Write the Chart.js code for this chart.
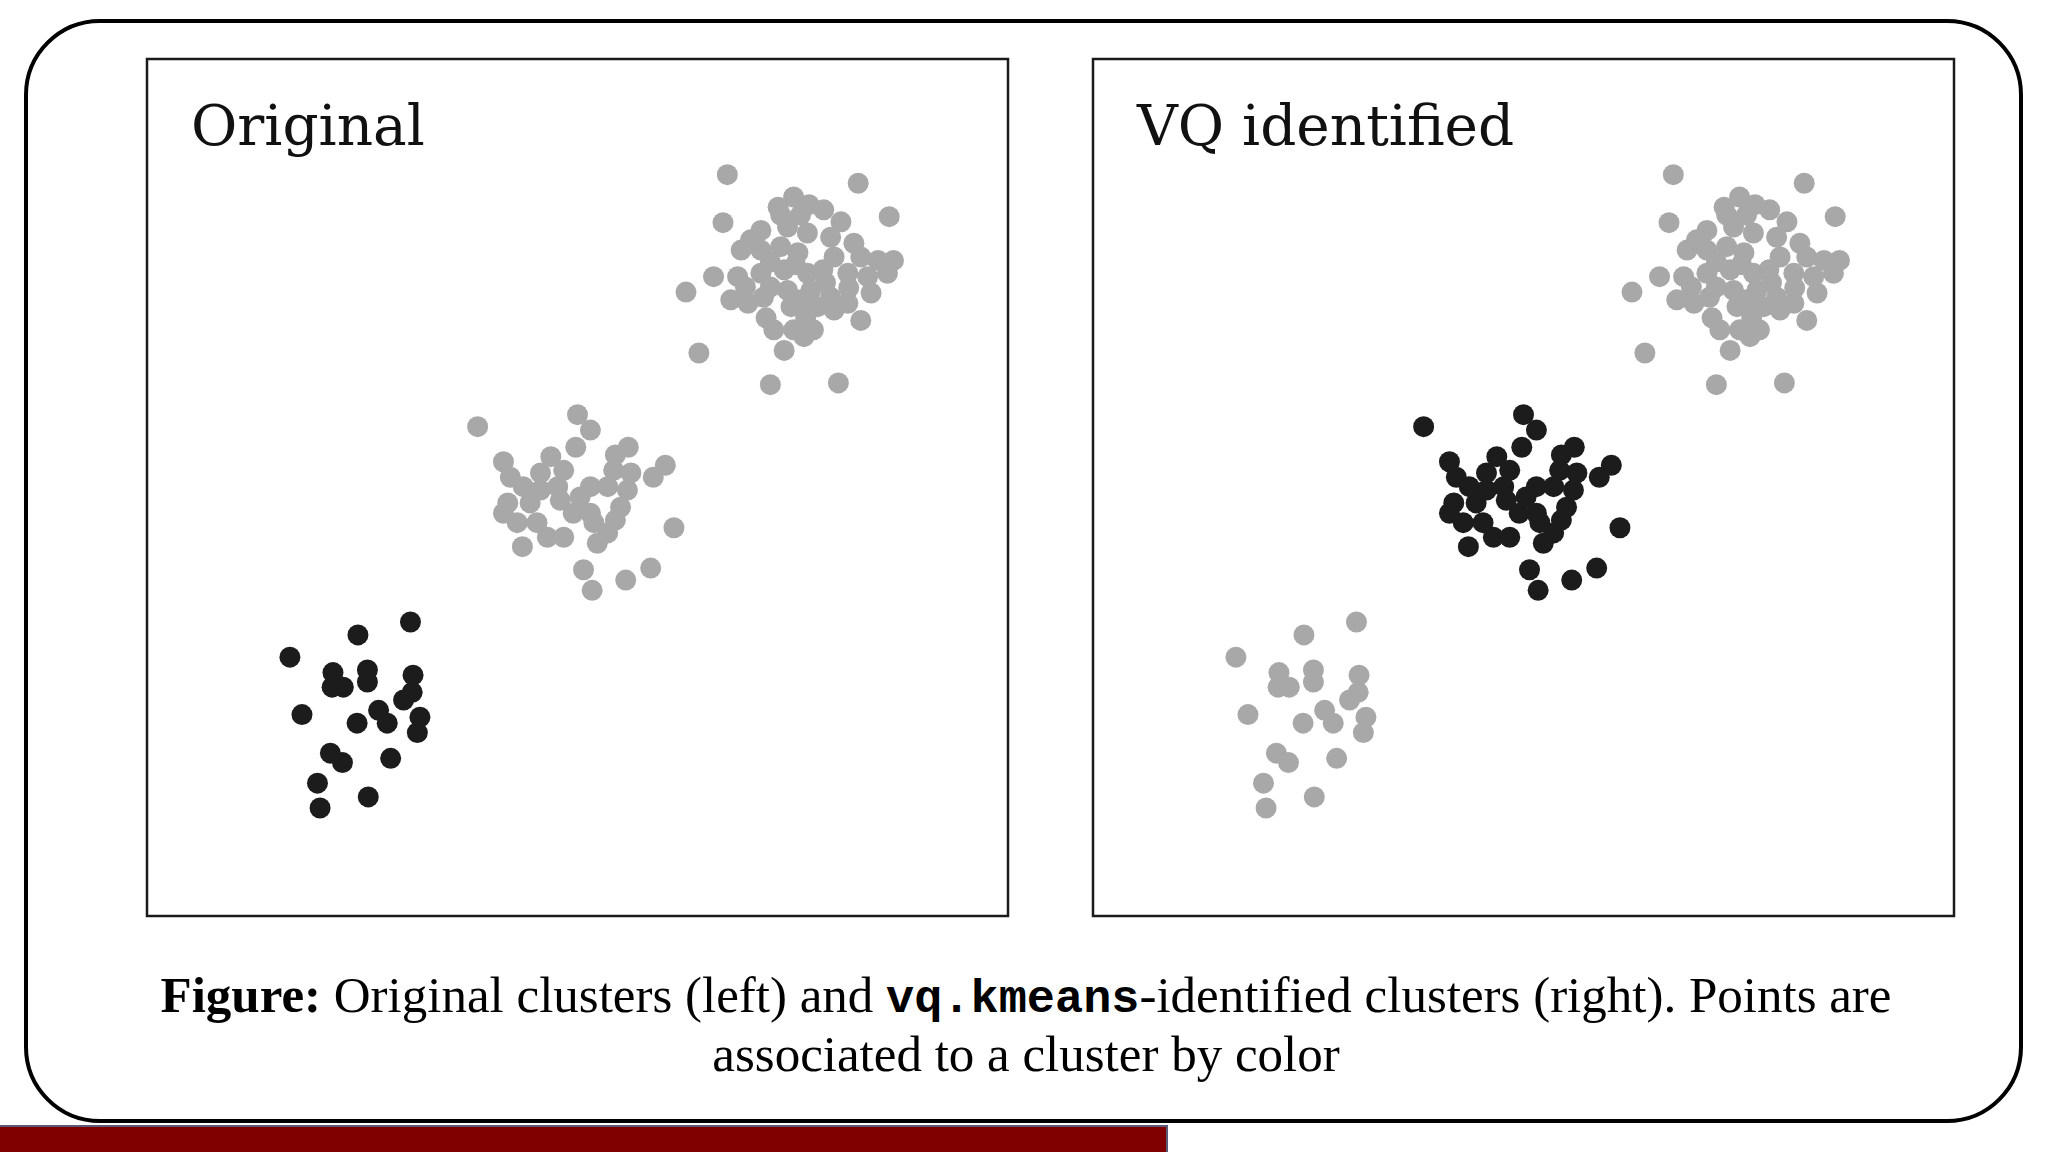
<!DOCTYPE html>
<html><head><meta charset="utf-8">
<script src="https://cdn.jsdelivr.net/npm/chart.js@4.4.1/dist/chart.umd.min.js"></script>
<style>
html,body{margin:0;padding:0;background:#fff;width:2048px;height:1152px;overflow:hidden}
#frame{position:absolute;left:24px;top:19px;width:1999px;height:1104px;border:4px solid #000;border-radius:76px;box-sizing:border-box}
.pan{position:absolute;top:52px;width:875px;height:871px}
#p1{left:140px}#p2{left:1086px}
#cap{position:absolute;left:0;width:2052px;top:968px;text-align:center;font-family:"Liberation Serif",serif;font-size:51px;line-height:55px;color:#000}
#cap code{font-family:"Liberation Mono",monospace;font-weight:bold;font-size:0.92em}
#bar{position:absolute;left:0;top:1125px;width:1168px;height:27px;background:#800000;border-top:2px solid #5a5a78;border-right:2px solid #5a5a78;box-sizing:border-box}
</style></head>
<body>
<div id="frame"></div>
<div class="pan" id="p1"><canvas id="c1" width="875" height="871"></canvas></div>
<div class="pan" id="p2"><canvas id="c2" width="875" height="871"></canvas></div>
<div id="cap"><b>Figure:</b> Original clusters (left) and <code>vq.kmeans</code>-identified clusters (right). Points are<br>associated to a cluster by color</div>
<div id="bar"></div>
<script>
// Panel titles
const panelTitles = ["Original", "VQ identified"];
// Cluster A (upper right)
const clusterAx = [6.74,8.26,8.62,6.69,6.26,6.41,7.24,8.03,8.29,7.51,7.33,7.86,8.06,7.13,7.44,7.67,7.94,6.90,7.13,7.36,7.56,7.98,8.29,8.49,8.67,6.58,6.86,7.13,7.40,7.67,8.14,8.37,8.60,6.78,6.98,7.16,7.44,7.71,7.94,8.14,8.41,7.48,7.79,7.98,7.28,7.51,7.74,7.40,
                   7.59,7.36,7.01,7.24,7.53,7.85,6.95,7.24,7.59,7.88,8.15,8.21,7.19,7.65,7.63,7.69];
const clusterAy = [8.65,8.55,8.16,8.09,7.28,6.57,6.20,6.22,6.95,8.39,8.27,8.24,8.10,8.00,8.04,7.97,7.92,7.77,7.77,7.81,7.74,7.69,7.69,7.65,7.65,7.46,7.46,7.50,7.54,7.50,7.50,7.46,7.50,7.19,7.15,7.22,7.30,7.30,7.22,7.15,7.27,7.11,7.11,7.07,6.84,6.84,6.84,6.60,
                   8.18,8.18,7.89,7.63,7.60,7.54,7.34,7.34,7.19,7.39,7.33,7.85,6.98,6.98,6.76,8.30];
// Cluster B (middle)
const clusterBx = [3.84,5.00,5.15,4.98,5.59,6.02,5.88,4.14,4.22,4.69,4.57,4.84,5.42,5.62,5.15,5.35,5.58,4.57,4.77,5.50,4.19,4.14,4.30,4.53,4.95,5.15,4.65,4.84,5.19,5.35,5.23,4.36,6.12,5.07,5.17,5.56,5.85,
                   4.80,5.03,4.45,5.44,4.37,5.44];
const clusterBy = [5.71,5.85,5.67,5.47,5.47,5.26,5.12,5.30,5.12,5.36,5.17,5.20,5.20,5.17,5.01,5.01,4.97,4.97,5.01,4.77,4.82,4.70,4.59,4.59,4.70,4.70,4.42,4.42,4.59,4.47,4.35,4.31,4.53,4.04,3.80,3.92,4.06,
                   4.85,4.89,4.82,5.38,5.01,4.62];
// Cluster C (lower left)
const clusterCx = [3.06,2.45,1.66,2.16,2.15,2.28,2.56,2.56,3.09,3.08,2.98,1.80,2.44,2.69,2.79,3.17,3.14,2.13,2.27,2.83,1.98,2.57,2.01];
const clusterCy = [3.43,3.28,3.02,2.84,2.67,2.67,2.87,2.73,2.81,2.61,2.52,2.35,2.25,2.40,2.25,2.32,2.14,1.90,1.79,1.84,1.55,1.39,1.26];
// Colours per cluster in each panel
const originalColors = ["#a8a8a8","#a8a8a8","#1c1c1c"];
const vqColors = ["#a8a8a8","#1c1c1c","#a8a8a8"];

const pts = (xs, ys) => xs.map((x, i) => ({x, y: ys[i]}));
const clusters = [pts(clusterAx, clusterAy), pts(clusterBx, clusterBy), pts(clusterCx, clusterCy)];

const panelPlugin = {
  id: 'panelDeco',
  afterDraw(chart, args, opts) {
    const {ctx, chartArea: a} = chart;
    ctx.save();
    ctx.strokeStyle = '#1a1a1a';
    ctx.lineWidth = 2.5;
    ctx.strokeRect(a.left, a.top, a.right - a.left, a.bottom - a.top);
    ctx.fillStyle = '#111';
    ctx.font = '56.5px "DejaVu Serif"';
    ctx.textBaseline = 'alphabetic';
    ctx.fillText(opts.label, a.left + 44, a.top + 86);
    ctx.restore();
  }
};

function makeChart(id, colors, label) {
  new Chart(document.getElementById(id), {
    type: 'scatter',
    data: {
      datasets: clusters.map((d, i) => ({
        data: d,
        backgroundColor: colors[i],
        borderWidth: 0,
        pointRadius: 10.5,
        pointHoverRadius: 10.5
      }))
    },
    options: {
      responsive: false,
      devicePixelRatio: 1,
      animation: false,
      events: [],
      layout: {padding: 7, autoPadding: false},
      clip: false,
      scales: {
        x: {type: 'linear', min: 0, max: 10, display: false},
        y: {type: 'linear', min: 0, max: 10, display: false}
      },
      plugins: {
        legend: {display: false},
        tooltip: {enabled: false},
        panelDeco: {label}
      }
    },
    plugins: [panelPlugin]
  });
}
makeChart('c1', originalColors, panelTitles[0]);
makeChart('c2', vqColors, panelTitles[1]);
</script>
</body></html>
